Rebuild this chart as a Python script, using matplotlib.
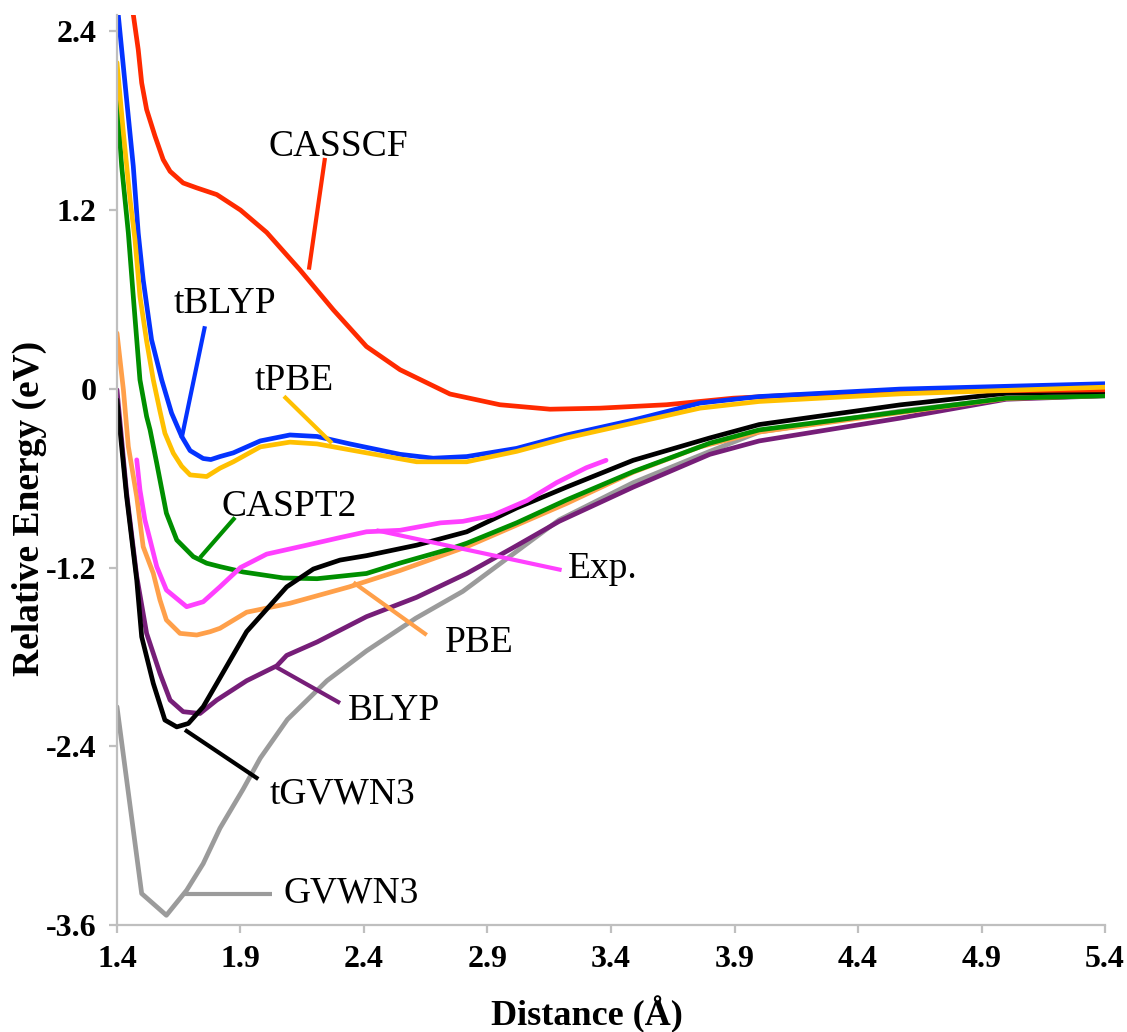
import numpy as np
from matplotlib import pyplot as plt

# potential energy curves (distance in Angstrom, energy in eV)
casscf_x = [1.455, 1.466, 1.486, 1.50, 1.52, 1.554, 1.587, 1.615, 1.668, 1.723, 1.804, 1.90,
            2.006, 2.14, 2.276, 2.41, 2.546, 2.748, 2.95, 3.153, 3.355, 3.625, 3.895, 4.165,
            4.57, 5.4]
casscf_y = [2.65, 2.513, 2.278, 2.054, 1.875, 1.696, 1.539, 1.46, 1.382, 1.349, 1.304, 1.20,
            1.05, 0.80, 0.53, 0.284, 0.128, -0.035, -0.107, -0.137, -0.13, -0.107, -0.063,
            -0.04, -0.018, -0.007]

tblyp_x = [1.40, 1.405, 1.439, 1.466, 1.486, 1.506, 1.54, 1.581, 1.621, 1.662, 1.696, 1.749,
           1.78, 1.817, 1.871, 1.98, 2.10, 2.21, 2.343, 2.546, 2.68, 2.816, 3.018, 3.22, 3.49,
           3.76, 4.0, 4.57, 5.4]
tblyp_y = [2.56, 2.513, 1.942, 1.494, 1.046, 0.733, 0.329, 0.06, -0.163, -0.32, -0.415,
           -0.468, -0.475, -0.455, -0.43, -0.35, -0.31, -0.32, -0.37, -0.44, -0.466, -0.455,
           -0.40, -0.31, -0.21, -0.096, -0.052, -0.002, 0.034]

tpbe_x = [1.40, 1.426, 1.453, 1.473, 1.493, 1.52, 1.547, 1.574, 1.594, 1.628, 1.662, 1.696,
          1.763, 1.817, 1.871, 1.98, 2.10, 2.21, 2.41, 2.613, 2.748, 2.816, 3.018, 3.22, 3.49,
          3.76, 4.0, 4.57, 5.4]
tpbe_y = [2.19, 1.718, 1.27, 1.0, 0.62, 0.32, 0.06, -0.15, -0.298, -0.432, -0.52, -0.578,
          -0.589, -0.533, -0.49, -0.39, -0.358, -0.37, -0.43, -0.49, -0.49, -0.49, -0.42,
          -0.33, -0.23, -0.13, -0.085, -0.034, 0.011]

caspt2_x = [1.40, 1.419, 1.446, 1.466, 1.493, 1.52, 1.534, 1.561, 1.574, 1.60, 1.642, 1.709,
            1.763, 1.817, 1.911, 2.073, 2.21, 2.41, 2.546, 2.748, 2.816, 3.018, 3.22, 3.49,
            3.80, 4.0, 4.57, 5.0, 5.4]
caspt2_y = [1.942, 1.494, 1.046, 0.62, 0.06, -0.186, -0.276, -0.50, -0.612, -0.835, -1.015,
            -1.127, -1.171, -1.194, -1.23, -1.27, -1.275, -1.24, -1.17, -1.075, -1.037,
            -0.90, -0.746, -0.556, -0.365, -0.276, -0.155, -0.063, -0.047]

tgvwn3_x = [1.40, 1.439, 1.48, 1.50, 1.547, 1.594, 1.642, 1.689, 1.749, 1.804, 1.925, 2.087,
            2.195, 2.303, 2.411, 2.613, 2.816, 3.018, 3.22, 3.49, 3.80, 4.0, 4.57, 5.0, 5.4]
tgvwn3_y = [-0.074, -0.724, -1.284, -1.665, -1.978, -2.224, -2.27, -2.247, -2.135, -1.978,
            -1.63, -1.33, -1.21, -1.15, -1.12, -1.05, -0.96, -0.80, -0.66, -0.48, -0.33,
            -0.24, -0.108, -0.03, -0.018]

blyp_x = [1.40, 1.439, 1.48, 1.52, 1.574, 1.615, 1.668, 1.736, 1.804, 1.925, 2.047, 2.087,
          2.21, 2.41, 2.613, 2.816, 3.0, 3.19, 3.49, 3.80, 4.0, 4.57, 5.0, 5.4]
blyp_y = [-0.007, -0.70, -1.26, -1.642, -1.911, -2.09, -2.168, -2.18, -2.09, -1.96, -1.86,
          -1.79, -1.70, -1.53, -1.40, -1.24, -1.07, -0.89, -0.66, -0.44, -0.35, -0.197,
          -0.07, -0.047]

gvwn3_x = [1.40, 1.50, 1.60, 1.682, 1.749, 1.817, 1.91, 1.98, 2.09, 2.25, 2.41, 2.61, 2.80,
           3.19, 3.49, 3.80, 4.0, 4.57, 5.0, 5.4]
gvwn3_y = [-2.135, -3.389, -3.535, -3.367, -3.188, -2.95, -2.69, -2.48, -2.22, -1.96, -1.76,
           -1.54, -1.36, -0.88, -0.63, -0.42, -0.29, -0.15, -0.065, -0.045]

pbe_x = [1.40, 1.426, 1.446, 1.48, 1.506, 1.547, 1.574, 1.60, 1.655, 1.723, 1.777, 1.817,
         1.925, 2.10, 2.34, 2.546, 2.816, 3.22, 3.49, 3.76, 4.0, 4.57, 5.0, 5.4]
pbe_y = [0.374, -0.007, -0.388, -0.724, -1.06, -1.239, -1.418, -1.552, -1.642, -1.653,
         -1.631, -1.608, -1.50, -1.44, -1.33, -1.22, -1.06, -0.77, -0.56, -0.39, -0.29,
         -0.16, -0.065, -0.045]

exp_x = [1.48, 1.493, 1.513, 1.534, 1.561, 1.60, 1.682, 1.749, 1.817, 1.90, 2.006, 2.168,
         2.30, 2.41, 2.546, 2.71, 2.80, 2.92, 3.06, 3.18, 3.30, 3.38]
exp_y = [-0.477, -0.679, -0.88, -1.015, -1.194, -1.351, -1.463, -1.43, -1.329, -1.20,
         -1.11, -1.05, -1.00, -0.96, -0.95, -0.90, -0.89, -0.85, -0.75, -0.63, -0.53, -0.48]

x_ticks = [1.4, 1.9, 2.4, 2.9, 3.4, 3.9, 4.4, 4.9, 5.4]
y_ticks = [-3.6, -2.4, -1.2, 0, 1.2, 2.4]
y_tick_labels = ["-3.6", "-2.4", "-1.2", "0", "1.2", "2.4"]

# name: (x, y, colour, text anchor, leader start, leader end)
series = [
    ("GVWN3", gvwn3_x, gvwn3_y, "#9B9B9B", (2.073, -3.446), (1.675, -3.39), (2.026, -3.39)),
    ("BLYP", blyp_x, blyp_y, "#761E78", (2.336, -2.222), (2.04, -1.864), (2.303, -2.11)),
    ("PBE", pbe_x, pbe_y, "#FFA04A", (2.728, -1.765), (2.357, -1.30), (2.654, -1.653)),
    ("CASPT2", caspt2_x, caspt2_y, "#008F00", (1.824, -0.852), (1.878, -0.864), (1.736, -1.134)),
    ("tGVWN3", tgvwn3_x, tgvwn3_y, "#000000", (2.019, -2.782), (1.675, -2.29), (1.972, -2.62)),
    ("CASSCF", casscf_x, casscf_y, "#FF2A00", (2.013, 1.561), (2.242, 1.55), (2.177, 0.80)),
    ("tBLYP", tblyp_x, tblyp_y, "#0433FF", (1.628, 0.509), (1.756, 0.42), (1.662, -0.33)),
    ("tPBE", tpbe_x, tpbe_y, "#FFC000", (1.959, -0.011), (2.076, -0.05), (2.27, -0.365)),
    ("Exp.", exp_x, exp_y, "#FF40FF", (3.227, -1.272), (2.45, -0.95), (3.2, -1.217)),
]

fig = plt.figure(figsize=(11.27, 10.32), dpi=100)
ax = fig.add_axes([0.1038, 0.1037, 0.8767, 0.8818])

for name, xs, ys, col, txt, p0, p1 in series:
    ax.plot(xs, ys, color=col, lw=3.4, solid_joinstyle="round", solid_capstyle="round")
    ax.plot([p0[0], p1[0]], [p0[1], p1[1]], color=col, lw=3.0, solid_capstyle="butt")
    ax.text(txt[0], txt[1], name, fontsize=27, family="Liberation Serif",
            ha="left", va="baseline")

ax.set_xlim(1.4, 5.4)
ax.set_ylim(-3.6, 2.51)
ax.set_xticks(x_ticks)
ax.set_xticklabels([str(v) for v in x_ticks])
ax.set_yticks(y_ticks)
ax.set_yticklabels(y_tick_labels)

for lab in ax.get_xticklabels() + ax.get_yticklabels():
    lab.set_family("Liberation Serif")
    lab.set_fontweight("bold")
    lab.set_fontsize(23)

for side in ["top", "right"]:
    ax.spines[side].set_visible(False)
for side in ["left", "bottom"]:
    ax.spines[side].set_color("#BFBFBF")
    ax.spines[side].set_linewidth(1.6)
ax.tick_params(direction="out", length=5.5, width=1.6, color="#BFBFBF", pad=9)

ax.set_xlabel("Distance (Å)", family="Liberation Serif", fontweight="bold", fontsize=26)
ax.set_ylabel("Relative Energy (eV)", family="Liberation Serif", fontweight="bold", fontsize=27)
ax.xaxis.set_label_coords(0.476, -0.078)
ax.yaxis.set_label_coords(-0.071, 0.458)

fig.savefig("out.png", dpi=100)
